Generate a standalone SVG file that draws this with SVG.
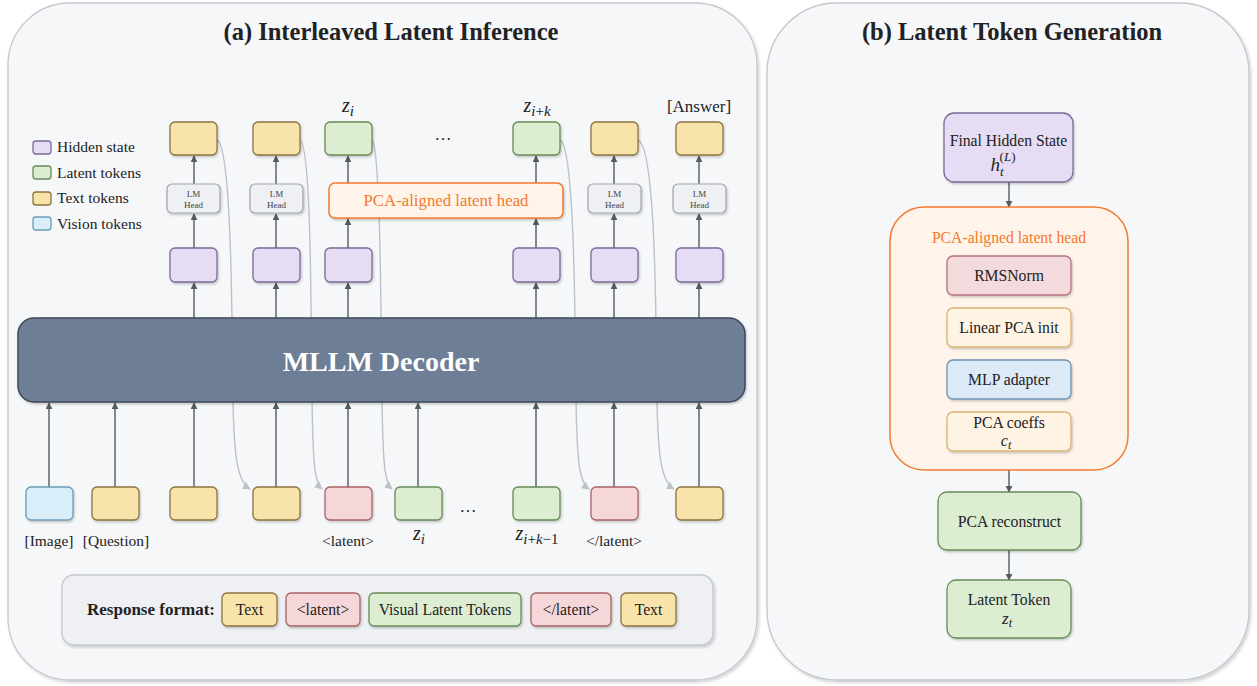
<svg xmlns="http://www.w3.org/2000/svg" width="1257" height="686" viewBox="0 0 1257 686">
<style>
text{font-family:"Liberation Serif","Times New Roman",serif;fill:#222}
.title{font-size:24.5px;font-weight:bold;text-anchor:middle}
.leg{font-size:15.5px}
.lab{font-size:15.5px;text-anchor:middle}
.m{font-style:italic;text-anchor:middle}
.lm{font-size:9px;text-anchor:middle;fill:#444}
.bt{font-size:15.7px;text-anchor:middle}
.hid{fill:#e6dcf4;stroke:#7b6a98;stroke-width:1.3}
.lat{fill:#dcedd2;stroke:#668c56;stroke-width:1.3}
.txt{fill:#f8e3ab;stroke:#8a7440;stroke-width:1.3}
.vis{fill:#d9eef8;stroke:#6c9cbb;stroke-width:1.3}
.mk{fill:#f6d7d9;stroke:#a86466;stroke-width:1.3}
.lmh{fill:#eef0f3;stroke:#a0a5ad;stroke-width:1.2}
.pca{fill:#fff4ea;stroke:#f27a2e;stroke-width:1.5}
.arr{stroke:#555a62;stroke-width:1.4;fill:none;marker-end:url(#ah)}
.fb{stroke:#bcc0c7;stroke-width:1.4;fill:none;marker-end:url(#ahg)}
.sub{font-size:15px}
.up{font-style:normal}
</style>
<defs>
<marker id="ah" viewBox="0 0 10 10" refX="9" refY="5" markerWidth="7" markerHeight="7" markerUnits="userSpaceOnUse" orient="auto"><path d="M0,0 L10,5 L0,10 z" fill="#555a62"/></marker>
<marker id="ahg" viewBox="0 0 10 10" refX="9" refY="5" markerWidth="8" markerHeight="8" markerUnits="userSpaceOnUse" orient="auto"><path d="M0,0 L10,5 L0,10 z" fill="#bcc0c7"/></marker>
<filter id="sh" x="-20%" y="-20%" width="140%" height="150%"><feDropShadow dx="1" dy="1.5" stdDeviation="1" flood-color="#000" flood-opacity="0.22"/></filter>
<filter id="psh" x="-5%" y="-5%" width="110%" height="110%"><feDropShadow dx="1.5" dy="2" stdDeviation="1.5" flood-color="#000" flood-opacity="0.18"/></filter>
</defs>
<rect width="1257" height="686" fill="#ffffff"/>

<g id="panel-a">
<rect x="8" y="3" width="749" height="677" rx="62" fill="#f6f7f9" stroke="#c3c7ce" stroke-width="1.3" filter="url(#psh)"/>
<text class="title" x="391" y="40">(a) Interleaved Latent Inference</text>
</g>
<g id="panel-b">
<rect x="767" y="3" width="482" height="677" rx="70" fill="#f6f7f9" stroke="#c3c7ce" stroke-width="1.3" filter="url(#psh)"/>
<text class="title" x="1012" y="40">(b) Latent Token Generation</text>
</g>

<g id="legend">
<rect class="hid" x="33" y="141" width="18" height="13" rx="3"/><text class="leg" x="57" y="152">Hidden state</text>
<rect class="lat" x="33" y="166" width="18" height="13" rx="3"/><text class="leg" x="57" y="178">Latent tokens</text>
<rect class="txt" x="33" y="192" width="18" height="13" rx="3"/><text class="leg" x="57" y="203">Text tokens</text>
<rect class="vis" x="33" y="217" width="18" height="13" rx="3"/><text class="leg" x="57" y="229">Vision tokens</text>
</g>

<g id="connectors">
<path class="fb" d="M217,140 C231,146 232,300 233,400 C234,460 238,482 250,489"/>
<path class="fb" d="M300,140 C311,146 311,300 312,400 C313,460 314,482 322,489"/>
<path class="fb" d="M372,140 C380,146 381,300 382,400 C383,460 384,482 392,489"/>
<path class="fb" d="M560,140 C574,146 575,300 576,400 C577,460 579,482 589,489"/>
<path class="fb" d="M638,140 C655,146 656,300 657,400 C658,460 662,482 674,489"/>
<line class="arr" x1="194" y1="318" x2="194" y2="283"/>
<line class="arr" x1="276" y1="318" x2="276" y2="283"/>
<line class="arr" x1="348" y1="318" x2="348" y2="283"/>
<line class="arr" x1="536" y1="318" x2="536" y2="283"/>
<line class="arr" x1="614" y1="318" x2="614" y2="283"/>
<line class="arr" x1="699" y1="318" x2="699" y2="283"/>
<line class="arr" x1="194" y1="248" x2="194" y2="214"/>
<line class="arr" x1="276" y1="248" x2="276" y2="214"/>
<line class="arr" x1="348" y1="248" x2="348" y2="219"/>
<line class="arr" x1="536" y1="248" x2="536" y2="219"/>
<line class="arr" x1="614" y1="248" x2="614" y2="214"/>
<line class="arr" x1="699" y1="248" x2="699" y2="214"/>
<line class="arr" x1="194" y1="184" x2="194" y2="156"/>
<line class="arr" x1="276" y1="184" x2="276" y2="156"/>
<line class="arr" x1="348" y1="183" x2="348" y2="156"/>
<line class="arr" x1="536" y1="183" x2="536" y2="156"/>
<line class="arr" x1="614" y1="184" x2="614" y2="156"/>
<line class="arr" x1="699" y1="184" x2="699" y2="156"/>
<line class="arr" x1="49" y1="487" x2="49" y2="403"/>
<line class="arr" x1="115" y1="487" x2="115" y2="403"/>
<line class="arr" x1="194" y1="487" x2="194" y2="403"/>
<line class="arr" x1="276" y1="487" x2="276" y2="403"/>
<line class="arr" x1="348" y1="487" x2="348" y2="403"/>
<line class="arr" x1="418" y1="487" x2="418" y2="403"/>
<line class="arr" x1="536" y1="487" x2="536" y2="403"/>
<line class="arr" x1="614" y1="487" x2="614" y2="403"/>
<line class="arr" x1="699" y1="487" x2="699" y2="403"/>
<line class="arr" x1="1009" y1="182" x2="1009" y2="207"/>
<line class="arr" x1="1009" y1="295" x2="1009" y2="308"/>
<line class="arr" x1="1009" y1="347" x2="1009" y2="360"/>
<line class="arr" x1="1009" y1="399" x2="1009" y2="412"/>
<line class="arr" x1="1009" y1="470" x2="1009" y2="492"/>
<line class="arr" x1="1009" y1="550" x2="1009" y2="580"/>
</g>

<g id="decoder">
<rect x="18" y="318" width="727" height="84" rx="16" fill="#6d7e96" stroke="#3e4858" stroke-width="1.5" filter="url(#sh)"/>
<text x="381" y="371" style="font-size:28px;font-weight:bold;fill:#ffffff;text-anchor:middle">MLLM Decoder</text>
</g>

<g id="top-outputs" filter="url(#sh)">
<rect class="txt" x="170" y="122" width="47" height="33" rx="5"/>
<rect class="txt" x="253" y="122" width="47" height="33" rx="5"/>
<rect class="lat" x="325" y="122" width="47" height="33" rx="5"/>
<rect class="lat" x="513" y="122" width="47" height="33" rx="5"/>
<rect class="txt" x="591" y="122" width="47" height="33" rx="5"/>
<rect class="txt" x="676" y="122" width="47" height="33" rx="5"/>
</g>
<g id="top-labels">
<text class="m" x="348" y="112" style="font-size:20px">z<tspan class="sub" dy="4">i</tspan></text>
<text x="443" y="140" style="font-size:17px;text-anchor:middle">…</text>
<text class="m" x="537" y="112" style="font-size:20px">z<tspan class="sub" dy="4">i<tspan class="up">+</tspan>k</tspan></text>
<text class="lab" x="699" y="112" style="font-size:17px">[Answer]</text>
</g>

<g id="lm-heads" filter="url(#sh)">
<rect class="lmh" x="167" y="184" width="53" height="29" rx="5"/>
<rect class="lmh" x="250" y="184" width="53" height="29" rx="5"/>
<rect class="lmh" x="588" y="184" width="53" height="29" rx="5"/>
<rect class="lmh" x="673" y="184" width="53" height="29" rx="5"/>
</g>
<g id="lm-head-labels">
<text class="lm" x="193.5" y="197">LM</text><text class="lm" x="193.5" y="208">Head</text>
<text class="lm" x="276.5" y="197">LM</text><text class="lm" x="276.5" y="208">Head</text>
<text class="lm" x="614.5" y="197">LM</text><text class="lm" x="614.5" y="208">Head</text>
<text class="lm" x="699.5" y="197">LM</text><text class="lm" x="699.5" y="208">Head</text>
</g>

<g id="pca-head-a">
<rect class="pca" x="329" y="183" width="234" height="35" rx="6" filter="url(#sh)"/>
<text x="446" y="206" style="font-size:16.8px;fill:#f27a2e;text-anchor:middle">PCA-aligned latent head</text>
</g>

<g id="hidden-states" filter="url(#sh)">
<rect class="hid" x="170" y="248" width="47" height="34" rx="5"/>
<rect class="hid" x="253" y="248" width="47" height="34" rx="5"/>
<rect class="hid" x="325" y="248" width="47" height="34" rx="5"/>
<rect class="hid" x="513" y="248" width="47" height="34" rx="5"/>
<rect class="hid" x="591" y="248" width="47" height="34" rx="5"/>
<rect class="hid" x="676" y="248" width="47" height="34" rx="5"/>
</g>

<g id="inputs" filter="url(#sh)">
<rect class="vis" x="26" y="487" width="47" height="33" rx="5"/>
<rect class="txt" x="92" y="487" width="47" height="33" rx="5"/>
<rect class="txt" x="170" y="487" width="47" height="33" rx="5"/>
<rect class="txt" x="253" y="487" width="47" height="33" rx="5"/>
<rect class="mk" x="325" y="487" width="47" height="33" rx="5"/>
<rect class="lat" x="395" y="487" width="47" height="33" rx="5"/>
<rect class="lat" x="513" y="487" width="47" height="33" rx="5"/>
<rect class="mk" x="591" y="487" width="47" height="33" rx="5"/>
<rect class="txt" x="676" y="487" width="47" height="33" rx="5"/>
</g>
<g id="input-labels">
<text class="lab" x="49" y="546">[Image]</text>
<text class="lab" x="116" y="546">[Question]</text>
<text class="lab" x="348" y="546">&lt;latent&gt;</text>
<text class="m" x="419" y="540" style="font-size:20px">z<tspan class="sub" dy="4">i</tspan></text>
<text x="468" y="512" style="font-size:17px;text-anchor:middle">…</text>
<text class="m" x="537" y="540" style="font-size:20px">z<tspan class="sub" dy="4">i<tspan class="up">+</tspan>k<tspan class="up">−1</tspan></tspan></text>
<text class="lab" x="614" y="546">&lt;/latent&gt;</text>
</g>

<g id="response-format">
<rect x="62" y="575" width="651" height="70" rx="12" fill="#eef0f3" stroke="#c3c7ce" stroke-width="1.3" filter="url(#psh)"/>
<text x="151" y="615" style="font-size:17px;font-weight:bold;text-anchor:middle">Response format:</text>
<g filter="url(#sh)">
<rect class="txt" x="222" y="593" width="55" height="33" rx="5"/>
<rect class="mk" x="286" y="593" width="74" height="33" rx="5"/>
<rect class="lat" x="369" y="593" width="152" height="33" rx="5"/>
<rect class="mk" x="531" y="593" width="80" height="33" rx="5"/>
<rect class="txt" x="621" y="593" width="55" height="33" rx="5"/>
</g>
<text class="bt" x="249.5" y="614.5">Text</text>
<text class="bt" x="323" y="614.5">&lt;latent&gt;</text>
<text class="bt" x="445" y="614.5">Visual Latent Tokens</text>
<text class="bt" x="571" y="614.5">&lt;/latent&gt;</text>
<text class="bt" x="648.5" y="614.5">Text</text>
</g>

<g id="final-hidden">
<rect class="hid" x="944" y="113" width="129" height="69" rx="10" filter="url(#sh)"/>
<text class="bt" x="1008.5" y="146">Final Hidden State</text>
<text class="m" x="1003" y="171" style="font-size:19px">h<tspan dy="5" style="font-size:13px">t</tspan><tspan dx="-4" dy="-15" style="font-size:13px;font-style:normal">(</tspan><tspan style="font-size:13px">L</tspan><tspan style="font-size:13px;font-style:normal">)</tspan></text>
</g>

<g id="pca-head-b">
<rect class="pca" x="890" y="207" width="238" height="263" rx="34"/>
<text x="1009" y="243" style="font-size:15.7px;fill:#f27a2e;text-anchor:middle">PCA-aligned latent head</text>
</g>
<g id="rmsnorm">
<rect x="947" y="256" width="124" height="39" rx="6" fill="#f2dadd" stroke="#b3737f" stroke-width="1.3" filter="url(#sh)"/>
<text class="bt" x="1009" y="281">RMSNorm</text>
</g>
<g id="linear-pca">
<rect x="947" y="308" width="124" height="39" rx="6" fill="#fff3e4" stroke="#d9b476" stroke-width="1.3" filter="url(#sh)"/>
<text class="bt" x="1009" y="333">Linear PCA init</text>
</g>
<g id="mlp-adapter">
<rect x="947" y="360" width="124" height="39" rx="6" fill="#dce9f6" stroke="#6e92b2" stroke-width="1.3" filter="url(#sh)"/>
<text class="bt" x="1009" y="385">MLP adapter</text>
</g>
<g id="pca-coeffs">
<rect x="947" y="412" width="124" height="39" rx="6" fill="#fff3e4" stroke="#d9b476" stroke-width="1.3" filter="url(#sh)"/>
<text class="bt" x="1009" y="428">PCA coeffs</text>
<text class="m" x="1006" y="446" style="font-size:16px">c<tspan dy="3" style="font-size:12px">t</tspan></text>
</g>
<g id="pca-reconstruct">
<rect class="lat" x="938" y="492" width="143" height="58" rx="9" filter="url(#sh)"/>
<text class="bt" x="1009.5" y="527">PCA reconstruct</text>
</g>
<g id="latent-token">
<rect class="lat" x="947" y="580" width="124" height="58" rx="9" filter="url(#sh)"/>
<text class="bt" x="1009" y="605">Latent Token</text>
<text class="m" x="1007" y="624" style="font-size:17px">z<tspan dy="3" style="font-size:12px">t</tspan></text>
</g>
</svg>
